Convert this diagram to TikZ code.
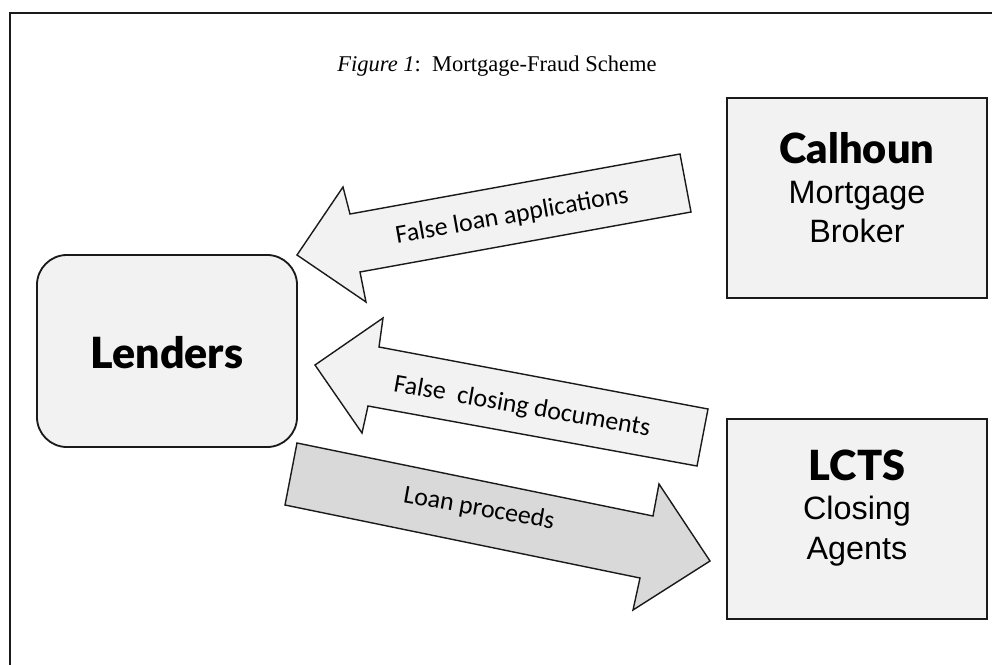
\documentclass[tikz,border=0pt]{standalone}
\usepackage{fontspec}
\setmainfont{Liberation Serif}
\newfontfamily\heavyfont{Lato Black}
\newfontfamily\bookfont{Liberation Sans}
\newfontfamily\labelfont{Carlito}
\usetikzlibrary{positioning}
\definecolor{boxgray}{HTML}{F2F2F2}
\definecolor{proceedsgray}{HTML}{D9D9D9}
\definecolor{edgegray}{HTML}{1A1A1A}

\tikzset{
	party/.style={draw=edgegray, fill=boxgray, line width=1.3pt, minimum width=6.5cm, minimum height=5cm},
	partytext/.style={align=center, font=\bookfont\fontsize{23}{28}\selectfont},
	blockarrow/.style={draw=edgegray, line width=1pt, line join=miter},
	arrowlabel/.style={font=\labelfont\fontsize{18.4}{20}\selectfont, inner sep=0pt},
}

\begin{document}
\begin{tikzpicture}[x=0.025cm, y=-0.025cm]
				\useasboundingbox (0,0) rectangle (992,664);
				\clip (0,0) rectangle (992,664);
				% outer frame, runs off the page on the right and below
				\draw[line width=1.5pt, edgegray] (10,13) rectangle (1010,690);
				\node (title) at (497,66) {\fontsize{16}{18}\selectfont\textit{Figure 1}:\ \ Mortgage-Fraud Scheme};

				% the three parties
				\node[party] (calhoun) at (857,198) {};
				\node[party] (lcts) at (857,519) {};
				\node[party, minimum height=4.8cm, rounded corners=0.75cm] (lenders) at (167,351) {};
				\node[partytext] (calhountext) at (857,188) {{\heavyfont\fontsize{29.5}{28}\selectfont Calhoun}\\Mortgage\\Broker};
				\node[partytext] (lctstext) at (857,508) {{\heavyfont\fontsize{29.5}{28}\selectfont LCTS}\\Closing\\Agents};
				\node (lenderstext) at (167,353) {\heavyfont\fontsize{30.5}{32}\selectfont Lenders};

				% block arrows
				\filldraw[blockarrow, fill=boxgray] (297,255) -- (343,187) -- (350,214) -- (680,154) -- (691,212) -- (360,272) -- (366,302) -- cycle;
				\filldraw[blockarrow, fill=boxgray] (315,365) -- (383,318) -- (379,347) -- (708,409) -- (697,466) -- (368,406) -- (362,433) -- cycle;
				\filldraw[blockarrow, fill=proceedsgray] (297,443) -- (653,516) -- (659,484) -- (710,561) -- (633,610) -- (640,578) -- (285,505) -- cycle;
				\node[arrowlabel, rotate=10] (applications) at (512,216) {False loan applications};
				\node[arrowlabel, rotate=-10] (documents) at (522,407) {False\ \ closing documents};
				\node[arrowlabel, rotate=-10] (proceeds) at (479,509) {Loan proceeds};
			\end{tikzpicture}
\end{document}
